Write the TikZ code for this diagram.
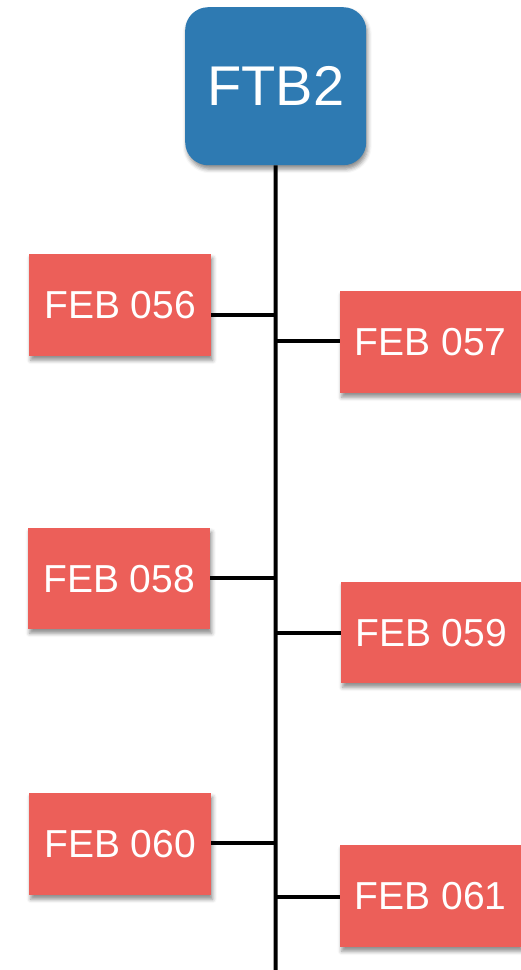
\documentclass[tikz,border=0pt]{standalone}
\usepackage{fontspec}
\setmainfont{Liberation Sans}
\usetikzlibrary{shadows.blur}
\definecolor{ftbblue}{HTML}{2E7AB2}
\definecolor{febred}{HTML}{EC5F59}
\begin{document}
\begin{tikzpicture}[x=1pt,y=-1pt,
  shadowed/.style={blur shadow={shadow xshift=1.5pt, shadow yshift=-4pt, shadow blur radius=4pt, shadow opacity=45}},
  febbox/.style={shadowed, fill=febred, text=white, inner sep=0pt, anchor=north west,
     minimum width=182pt, minimum height=102pt, font=\fontsize{39}{45}\selectfont},
  ftbbox/.style={shadowed, fill=ftbblue, text=white, inner sep=0pt, anchor=north west,
     rounded corners=23pt, minimum width=181pt, minimum height=158pt, font=\fontsize{56}{64}\selectfont},
  wire/.style={line width=4pt, black}]
\useasboundingbox (0,0) rectangle (521,970);
% spine
\coordinate (bottom) at (275.5,972);
\coordinate (s1) at (275.5,315);
\coordinate (s2) at (275.5,341);
\coordinate (s3) at (275.5,578);
\coordinate (s4) at (275.5,633);
\coordinate (s5) at (275.5,843);
\coordinate (s6) at (275.5,897);
\node[ftbbox] (ftb) at (185,7) {FTB2};
\draw[wire] (ftb.south) -- (bottom);
\node[febbox] (f056) at (29,254) {FEB 056};
\node[febbox, minimum width=181pt] (f057) at (340,291) {FEB 057};
\node[febbox, minimum height=101pt] (f058) at (28,528) {FEB 058};
\node[febbox, minimum width=180pt, minimum height=101pt] (f059) at (341,582) {FEB 059};
\node[febbox] (f060) at (29,793) {FEB 060};
\node[febbox, minimum width=181pt] (f061) at (340,845) {FEB 061};
\draw[wire] (f056.east |- s1) -- (s1);
\draw[wire] (s2) -- (f057.west |- s2);
\draw[wire] (f058.east |- s3) -- (s3);
\draw[wire] (s4) -- (f059.west |- s4);
\draw[wire] (f060.east |- s5) -- (s5);
\draw[wire] (s6) -- (f061.west |- s6);
\end{tikzpicture}
\end{document}
